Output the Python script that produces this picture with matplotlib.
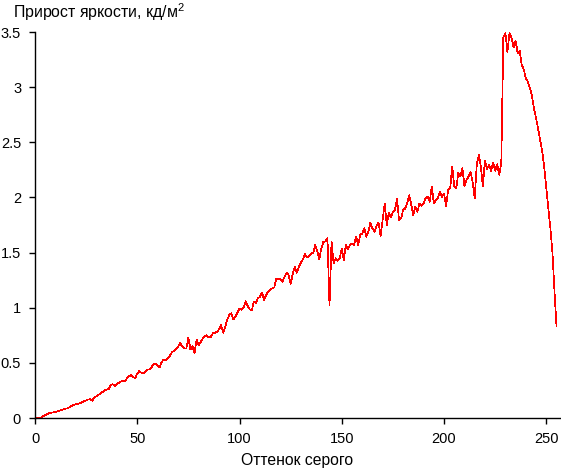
import matplotlib
matplotlib.use("Agg")
import matplotlib.pyplot as plt
from matplotlib.ticker import FormatStrFormatter, MultipleLocator
import numpy as np

plt.rcParams['font.family'] = ['Liberation Sans', 'DejaVu Sans']
plt.rcParams['mathtext.fontset'] = 'custom'
plt.rcParams['mathtext.rm'] = 'Liberation Sans'

# brightness increment for each grey level 0..255
levels = np.arange(256)
increment = [
    0.0, 0.0, 0.0, 0.006, 0.015, 0.025, 0.035, 0.045, 0.048, 0.052,
    0.055, 0.06, 0.066, 0.072, 0.08, 0.086, 0.088, 0.1, 0.11, 0.12,
    0.125, 0.127, 0.135, 0.142, 0.15, 0.158, 0.168, 0.17, 0.157, 0.185,
    0.198, 0.21, 0.222, 0.235, 0.252, 0.257, 0.262, 0.3, 0.306, 0.29,
    0.31, 0.318, 0.332, 0.333, 0.334, 0.36, 0.378, 0.39, 0.372, 0.362,
    0.405, 0.425, 0.41, 0.405, 0.42, 0.44, 0.44, 0.46, 0.49, 0.49,
    0.47, 0.46, 0.51, 0.53, 0.526, 0.545, 0.565, 0.6, 0.605, 0.625,
    0.648, 0.683, 0.646, 0.63, 0.63, 0.73, 0.62, 0.65, 0.59, 0.71,
    0.66, 0.69, 0.72, 0.74, 0.75, 0.73, 0.737, 0.768, 0.773, 0.78,
    0.804, 0.843, 0.773, 0.828, 0.89, 0.934, 0.95, 0.895, 0.918, 0.955,
    0.994, 0.98, 1.0, 1.06, 1.015, 0.985, 0.975, 1.055, 1.045, 1.085,
    1.1, 1.136, 1.07, 1.115, 1.145, 1.16, 1.176, 1.185, 1.266, 1.257,
    1.26, 1.236, 1.281, 1.317, 1.296, 1.215, 1.305, 1.372, 1.317, 1.372,
    1.408, 1.439, 1.487, 1.457, 1.469, 1.493, 1.493, 1.568, 1.517, 1.439,
    1.538, 1.598, 1.6, 1.63, 1.02, 1.6, 1.4, 1.448, 1.426, 1.448,
    1.538, 1.432, 1.568, 1.53, 1.568, 1.584, 1.568, 1.644, 1.568, 1.659,
    1.674, 1.72, 1.644, 1.689, 1.771, 1.72, 1.689, 1.741, 1.771, 1.65,
    1.795, 1.946, 1.75, 1.861, 1.82, 1.87, 1.886, 1.983, 1.795, 1.81,
    1.886, 1.9, 1.952, 2.02, 1.93, 1.84, 1.916, 1.87, 1.946, 1.922,
    1.946, 1.992, 2.006, 1.961, 2.097, 1.946, 1.976, 1.992, 2.052, 2.006,
    2.037, 1.922, 2.067, 2.082, 2.28, 2.1, 2.085, 2.225, 2.19, 2.265,
    2.1, 2.16, 2.19, 2.23, 2.135, 1.99, 2.3, 2.385, 2.28, 2.1,
    2.335, 2.255, 2.294, 2.242, 2.315, 2.242, 2.3, 2.205, 2.32, 3.45,
    3.49, 3.32, 3.49, 3.45, 3.36, 3.42, 3.31, 3.33, 3.2, 3.16,
    3.08, 3.05, 2.99, 2.92, 2.8, 2.72, 2.62, 2.52, 2.42, 2.27,
    2.08, 1.9, 1.72, 1.5, 1.15, 0.83,
]

title = "Прирост яркости, кд/м$^2$"
xlabel = "Оттенок серого"

fig = plt.figure(figsize=(5.61, 4.71), dpi=100)
ax = fig.add_axes([35 / 561, 1 - 418 / 471, 525 / 561, 386 / 471])

ax.plot(levels, increment, color="red", linewidth=0.5, antialiased=False)

ax.set_xlim(0, 256.7)
ax.set_ylim(0, 3.5)
ax.xaxis.set_major_locator(MultipleLocator(50))
ax.yaxis.set_major_locator(MultipleLocator(0.5))
ax.yaxis.set_major_formatter(FormatStrFormatter("%g"))

for side in ("top", "right"):
    ax.spines[side].set_visible(False)
for side in ("left", "bottom"):
    ax.spines[side].set_linewidth(1.0)
    ax.spines[side].set_color("black")

ax.tick_params(axis="both", direction="out", length=4, width=1,
               labelsize=10.5, pad=6)
ax.set_xlabel(xlabel, fontsize=11.3, labelpad=5)

fig.text(13 / 561, 1 - 12 / 471, title, fontsize=11.4, va="center", ha="left")

fig.savefig("out.png", dpi=100)
